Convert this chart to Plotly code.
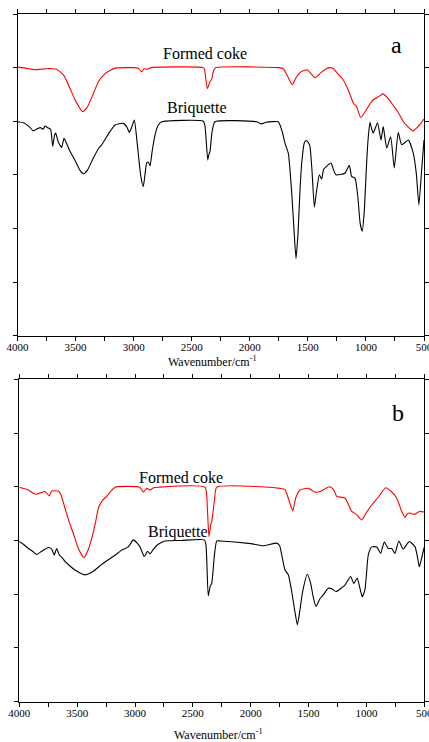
import plotly.graph_objects as go
from plotly.subplots import make_subplots

# ---------- Panel a ----------
a_coke_wn = [4000, 3900, 3850, 3800, 3750, 3700, 3662, 3600, 3550, 3500, 3439, 3400, 3350, 3300, 3250, 3200, 3160,
             3000, 2960, 2931, 2910, 2880, 2850, 2400, 2390, 2366, 2345, 2328, 2310, 2290, 1750, 1711, 1670, 1634,
             1600, 1560, 1505, 1470, 1438, 1400, 1350, 1309, 1280, 1240, 1195, 1150, 1109, 1080, 1045, 1000, 960,
             937, 890, 851, 800, 760, 735, 700, 678, 640, 610, 592, 560, 530, 500]
a_coke_val = [5.01, 4.98, 4.96, 4.97, 4.98, 4.98, 4.97, 4.85, 4.62, 4.38, 4.18, 4.26, 4.50, 4.75, 4.88, 4.95, 4.99,
              5.00, 4.99, 4.92, 4.98, 4.97, 5.00, 5.00, 4.97, 4.61, 4.72, 4.79, 4.95, 5.00, 5.00, 4.98, 4.82, 4.68,
              4.82, 4.92, 4.96, 4.88, 4.81, 4.88, 4.97, 5.00, 4.98, 4.88, 4.77, 4.57, 4.34, 4.27, 4.07, 4.20, 4.34,
              4.40, 4.46, 4.51, 4.40, 4.28, 4.21, 4.08, 3.99, 3.90, 3.84, 3.82, 3.88, 3.95, 4.04]

a_briq_wn = [4000, 3950, 3900, 3864, 3830, 3800, 3780, 3763, 3740, 3715, 3697, 3680, 3671, 3650, 3620, 3600, 3580,
             3550, 3500, 3460, 3433, 3400, 3350, 3300, 3275, 3200, 3160, 3089, 3060, 3037, 3015, 2994, 2970, 2940,
             2917, 2900, 2888, 2874, 2859, 2840, 2816, 2790, 2758, 2400, 2385, 2362, 2350, 2343, 2325, 2300, 1941,
             1898, 1860, 1755, 1720, 1697, 1668, 1639, 1620, 1602, 1585, 1568, 1553, 1530, 1516, 1495, 1482, 1465,
             1444, 1425, 1401, 1381, 1365, 1344, 1301, 1280, 1258, 1181, 1143, 1123, 1094, 1070, 1050, 1032, 1015,
             994, 980, 965, 950, 937, 900, 870, 851, 821, 787, 756, 722, 692, 635, 592, 565, 544, 520, 500]
a_briq_val = [3.99, 3.97, 3.90, 3.82, 3.86, 3.88, 3.85, 3.91, 3.88, 3.85, 3.53, 3.75, 3.78, 3.62, 3.51, 3.68, 3.60,
              3.45, 3.25, 3.08, 3.02, 3.08, 3.30, 3.50, 3.56, 3.82, 3.93, 3.96, 3.90, 3.79, 3.90, 4.02, 3.60, 3.00,
              2.78, 3.05, 3.22, 3.24, 3.17, 3.45, 3.74, 3.92, 3.99, 4.00, 3.90, 3.28, 3.40, 3.43, 3.80, 3.99, 3.99,
              3.95, 3.98, 3.99, 3.80, 3.59, 3.40, 2.66, 2.00, 1.44, 1.90, 2.70, 3.22, 3.60, 3.64, 3.60, 3.53, 3.10,
              2.40, 2.70, 3.00, 2.92, 3.10, 3.15, 3.22, 3.10, 3.00, 3.03, 3.18, 2.97, 2.94, 2.60, 2.10, 1.95, 2.30,
              3.22, 3.70, 3.98, 3.85, 3.78, 3.97, 3.65, 3.90, 3.50, 3.71, 3.13, 3.79, 3.56, 3.65, 3.40, 3.00, 2.44,
              3.10, 3.65]

# ---------- Panel b ----------
b_coke_wn = [4000, 3922, 3880, 3850, 3810, 3778, 3741, 3720, 3663, 3640, 3605, 3570, 3533, 3490, 3441, 3410, 3374,
             3340, 3317, 3280, 3245, 3173, 2960, 2928, 2899, 2870, 2840, 2800, 2395, 2375, 2361, 2345, 2337, 2315,
             2294, 1833, 1747, 1704, 1670, 1637, 1610, 1574, 1502, 1470, 1445, 1401, 1350, 1315, 1280, 1257, 1186,
             1127, 1090, 1041, 1000, 955, 900, 834, 790, 739, 695, 667, 645, 623, 600, 580, 543, 500]
b_coke_val = [3.99, 3.94, 3.88, 3.86, 3.89, 3.91, 3.83, 3.92, 3.92, 3.85, 3.60, 3.35, 3.13, 2.85, 2.68, 2.80, 3.04,
              3.35, 3.60, 3.75, 3.82, 3.99, 3.99, 3.90, 3.97, 3.94, 3.98, 3.99, 3.99, 3.60, 3.07, 3.30, 3.35, 3.72,
              3.99, 3.99, 3.97, 3.95, 3.75, 3.55, 3.80, 3.94, 3.97, 3.93, 3.90, 3.91, 3.97, 4.00, 3.93, 3.82, 3.79,
              3.54, 3.49, 3.38, 3.52, 3.66, 3.80, 3.98, 3.92, 3.79, 3.54, 3.43, 3.50, 3.51, 3.49, 3.49, 3.54, 3.53]

b_briq_wn = [4000, 3960, 3922, 3880, 3850, 3806, 3749, 3720, 3698, 3677, 3654, 3630, 3605, 3560, 3519, 3470, 3432,
             3390, 3346, 3290, 3231, 3170, 3115, 3058, 3015, 2985, 2957, 2920, 2891, 2870, 2840, 2799, 2741, 2600,
             2400, 2386, 2367, 2350, 2337, 2315, 2294, 2264, 2000, 1891, 1776, 1750, 1732, 1704, 1675, 1646, 1620,
             1597, 1575, 1551, 1511, 1482, 1460, 1436, 1401, 1372, 1330, 1300, 1263, 1186, 1137, 1109, 1080, 1055,
             1036, 1013, 984, 955, 911, 877, 846, 811, 782, 754, 720, 682, 630, 580, 560, 543, 520, 500]
b_briq_val = [2.98, 2.92, 2.85, 2.79, 2.74, 2.80, 2.87, 2.84, 2.73, 2.85, 2.73, 2.68, 2.61, 2.52, 2.45, 2.39, 2.36,
              2.39, 2.45, 2.55, 2.64, 2.73, 2.82, 2.88, 3.01, 2.96, 2.88, 2.70, 2.80, 2.75, 2.84, 2.93, 2.99, 3.00,
              3.01, 2.90, 1.97, 2.15, 2.20, 2.70, 2.99, 2.99, 2.94, 2.90, 2.95, 2.90, 2.73, 2.45, 2.36, 2.05, 1.70,
              1.43, 1.70, 2.05, 2.37, 2.20, 1.95, 1.77, 1.92, 1.99, 2.11, 2.10, 2.05, 2.17, 2.33, 2.20, 2.30, 2.10,
              1.95, 2.08, 2.73, 2.88, 2.88, 2.76, 2.97, 2.85, 2.85, 2.76, 2.99, 2.84, 2.98, 2.88, 2.70, 2.51, 2.70,
              2.88]

x_tick_vals = [4000, 3500, 3000, 2500, 2000, 1500, 1000, 500]
x_tick_text = ["4000", "3500", "3000", "2500", "2000", "1500", "1000", "500"]
series_names = ["Formed coke", "Briquette"]
panel_labels = ["a", "b"]

W, H = 429, 742
FONT = "Liberation Serif"

fig = make_subplots(rows=2, cols=1)

line_kw = dict(shape="spline", smoothing=0.5)
fig.add_trace(go.Scatter(x=a_briq_wn, y=a_briq_val, mode="lines", name=series_names[1],
                         line=dict(color="#000000", width=1.1, **line_kw)), row=1, col=1)
fig.add_trace(go.Scatter(x=a_coke_wn, y=a_coke_val, mode="lines", name=series_names[0],
                         line=dict(color="#ff0000", width=1.1, **line_kw)), row=1, col=1)
fig.add_trace(go.Scatter(x=b_briq_wn, y=b_briq_val, mode="lines", name=series_names[1],
                         line=dict(color="#000000", width=1.1, **line_kw)), row=2, col=1)
fig.add_trace(go.Scatter(x=b_coke_wn, y=b_coke_val, mode="lines", name=series_names[0],
                         line=dict(color="#ff0000", width=1.1, **line_kw)), row=2, col=1)

xaxis_common = dict(range=[4000, 500], tickmode="array", tickvals=x_tick_vals, ticktext=x_tick_text,
                    ticks="outside", ticklen=4, tickwidth=1, tickcolor="#000", showline=True, linecolor="#000",
                    linewidth=1, mirror="allticks", showgrid=False, zeroline=False,
                    ticklabeloverflow="allow", automargin=False, ticklabelstandoff=-3,
                    tickfont=dict(family=FONT, size=11, color="#000"),
                    minor=dict(dtick=250, tick0=500, ticks="outside", ticklen=4, tickcolor="#000", showgrid=False))
yaxis_common = dict(range=[0, 6], dtick=1, tick0=0, showticklabels=False, ticks="outside", ticklen=4,
                    tickcolor="#000", showline=True, linecolor="#000", linewidth=1, mirror="allticks",
                    showgrid=False, zeroline=False, automargin=False)

fig.update_layout(
    xaxis=dict(domain=[17.5 / W, 424 / W], **xaxis_common),
    yaxis=dict(domain=[(H - 335.7) / H, (H - 14) / H], **yaxis_common),
    xaxis2=dict(domain=[19.3 / W, 424.3 / W], **xaxis_common),
    yaxis2=dict(domain=[(H - 701.6) / H, (H - 379.3) / H], **yaxis_common),
)

annotations = []
# series labels and panel letters
annotations += [
    dict(x=2386, y=5.26, xref="x", yref="y", text=series_names[0], font=dict(size=16)),
    dict(x=2455, y=4.25, xref="x", yref="y", text=series_names[1], font=dict(size=16)),
    dict(x=733, y=5.42, xref="x", yref="y", text=panel_labels[0], font=dict(size=24)),
    dict(x=2600, y=4.18, xref="x2", yref="y2", text=series_names[0], font=dict(size=16)),
    dict(x=2629, y=3.15, xref="x2", yref="y2", text=series_names[1], font=dict(size=16)),
    dict(x=727, y=5.37, xref="x2", yref="y2", text=panel_labels[1], font=dict(size=24)),
]
# axis titles
annotations += [
    dict(x=212 / W, y=1 - 361 / H, xref="paper", yref="paper", text="Wavenumber/cm<sup>-1</sup>",
         font=dict(size=12)),
    dict(x=218 / W, y=1 - 734 / H, xref="paper", yref="paper", text="Wavenumber/cm<sup>-1</sup>",
         font=dict(size=12)),
]
for a in annotations:
    a.setdefault("showarrow", False)
    a["font"] = dict(family=FONT, color="#000", **a["font"])
    a["xanchor"] = "center"
    a["yanchor"] = "middle"

fig.update_layout(
    annotations=annotations,
    width=W, height=H,
    font=dict(family=FONT, color="#000", size=11),
    margin=dict(l=0, r=0, t=0, b=0, autoexpand=False),
    paper_bgcolor="white", plot_bgcolor="white",
    showlegend=False,
)

fig.write_html("out.html", config={"displayModeBar": False})
